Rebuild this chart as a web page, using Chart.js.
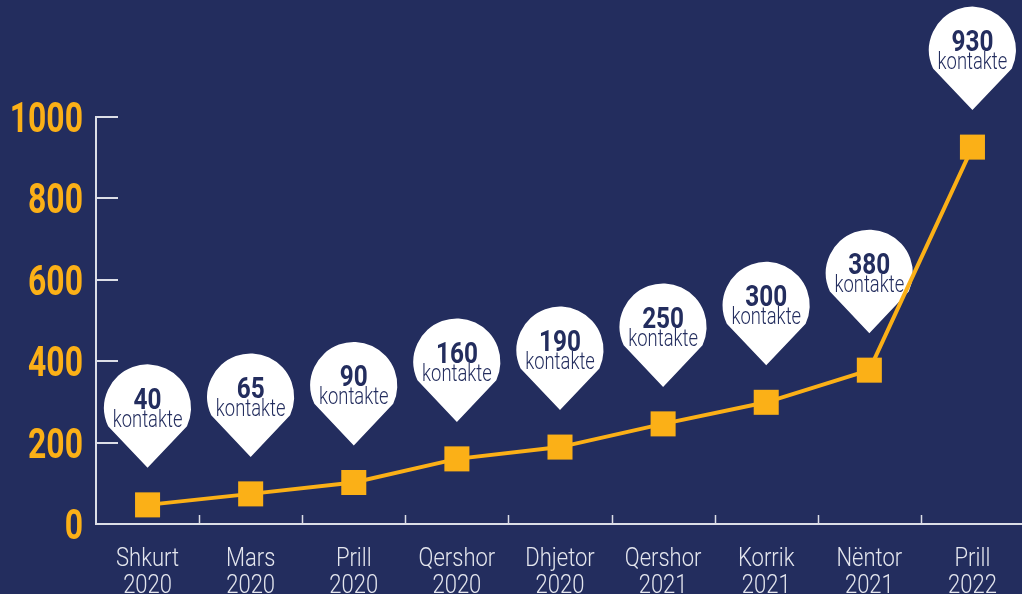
<!DOCTYPE html>
<html><head><meta charset="utf-8">
<script src="https://cdn.jsdelivr.net/npm/chart.js@4.4.0/dist/chart.umd.min.js"></script>
<style>
html,body{margin:0;padding:0;background:#232d5e;overflow:hidden;width:1022px;height:594px}
canvas{display:block}
</style>
</head><body>
<canvas id="c" width="1024" height="594"></canvas>
<script>
const months = ['Shkurt', 'Mars', 'Prill', 'Qershor', 'Dhjetor', 'Qershor', 'Korrik', 'Nëntor', 'Prill'];
const years = ['2020', '2020', '2020', '2020', '2020', '2021', '2021', '2021', '2022'];
const values = [47, 74, 102, 160, 189, 246, 299, 378, 926];
const pinValues = [40, 65, 90, 160, 190, 250, 300, 380, 930];
const pinUnit = 'kontakte';
const yTicks = [0, 200, 400, 600, 800, 1000];

const BG = '#232d5e';
const ORANGE = '#fbb017';
const AXIS = '#dcdee7';
const XLBL = '#e4e6ee';
const FONT = 'Roboto, "DejaVu Sans", sans-serif';

const labels = months.map((m, i) => [m, years[i]]);

function condensedText(ctx, text, x, y, align, font, color, sx) {
  ctx.save();
  ctx.translate(x, y);
  ctx.scale(sx, 1);
  ctx.font = font;
  ctx.fillStyle = color;
  ctx.textAlign = align;
  ctx.textBaseline = 'alphabetic';
  ctx.fillText(text, 0, 0);
  ctx.restore();
}

const axisDecor = {
  id: 'axisDecor',
  beforeDatasetsDraw(chart) {
    const ctx = chart.ctx;
    const xs = chart.scales.x, ys = chart.scales.y;
    const area = chart.chartArea;
    ctx.save();
    ctx.strokeStyle = AXIS;
    ctx.lineWidth = 2;
    ys.ticks.forEach(t => {
      const y = Math.round(ys.getPixelForValue(t.value));
      ctx.beginPath();
      ctx.moveTo(area.left, y);
      ctx.lineTo(area.left + 22, y);
      ctx.stroke();
    });
    ctx.lineWidth = 1.5;
    for (let i = 0; i < labels.length - 1; i++) {
      const x = Math.round((xs.getPixelForValue(i) + xs.getPixelForValue(i + 1)) / 2) + 0.5;
      ctx.beginPath();
      ctx.moveTo(x, area.bottom);
      ctx.lineTo(x, area.bottom - 9);
      ctx.stroke();
    }
    ctx.restore();
    ys.ticks.forEach(t => {
      const y = ys.getPixelForValue(t.value);
      condensedText(ctx, String(t.value), area.left - 13, y + 15, 'right', 'bold 42px ' + FONT, ORANGE, 0.76);
    });
    labels.forEach((lbl, i) => {
      const x = xs.getPixelForValue(i);
      condensedText(ctx, lbl[0], x, area.bottom + 42, 'center', '300 25px ' + FONT, XLBL, 0.88);
      condensedText(ctx, lbl[1], x, area.bottom + 69, 'center', '300 25px ' + FONT, XLBL, 0.88);
    });
  }
};

const pins = {
  id: 'pins',
  beforeDatasetsDraw(chart) {
    const ctx = chart.ctx;
    const meta = chart.getDatasetMeta(0);
    const r = 43.5, d = 60, gap = 37;
    const th = 25 * Math.PI / 180;
    meta.data.forEach((pt, i) => {
      const cx = pt.x;
      const tipY = pt.y - gap;
      const cy = tipY - d;
      ctx.save();
      ctx.fillStyle = '#ffffff';
      ctx.beginPath();
      ctx.moveTo(cx, tipY);
      ctx.lineTo(cx + r * Math.cos(th), cy + r * Math.sin(th));
      ctx.arc(cx, cy, r, th, Math.PI - th, true);
      ctx.closePath();
      ctx.fill();
      ctx.restore();
      condensedText(ctx, String(pinValues[i]), cx, cy + 1, 'center', 'bold 29px ' + FONT, BG, 0.84);
      condensedText(ctx, pinUnit, cx, cy + 19, 'center', '300 23px ' + FONT, BG, 0.8);
    });
  }
};

new Chart(document.getElementById('c'), {
  type: 'line',
  data: {
    labels: labels,
    datasets: [{
      data: values,
      borderColor: ORANGE,
      backgroundColor: ORANGE,
      borderWidth: 4,
      tension: 0,
      pointStyle: 'rect',
      pointRadius: 17.7,
      pointHoverRadius: 17.7,
      pointBorderWidth: 0,
      pointBackgroundColor: ORANGE,
      clip: false
    }]
  },
  options: {
    responsive: false,
    devicePixelRatio: 1,
    animation: false,
    events: [],
    layout: { autoPadding: false, padding: { top: 117, left: 0, right: 0, bottom: 0 } },
    plugins: { legend: { display: false }, tooltip: { enabled: false } },
    scales: {
      x: {
        offset: true,
        grid: { display: false, drawTicks: false },
        border: { display: true, color: AXIS, width: 2 },
        ticks: { display: false },
        afterFit(scale) { scale.height = 70; scale.paddingLeft = 0; scale.paddingRight = 0; }
      },
      y: {
        min: 0,
        max: 1000,
        afterBuildTicks(scale) { scale.ticks = yTicks.map(v => ({ value: v })); },
        grid: { display: false, drawTicks: false },
        border: { display: true, color: AXIS, width: 2 },
        ticks: { display: false },
        afterFit(scale) { scale.width = 96; scale.paddingTop = 0; scale.paddingBottom = 0; }
      }
    }
  },
  plugins: [axisDecor, pins]
});
</script>
</body></html>
